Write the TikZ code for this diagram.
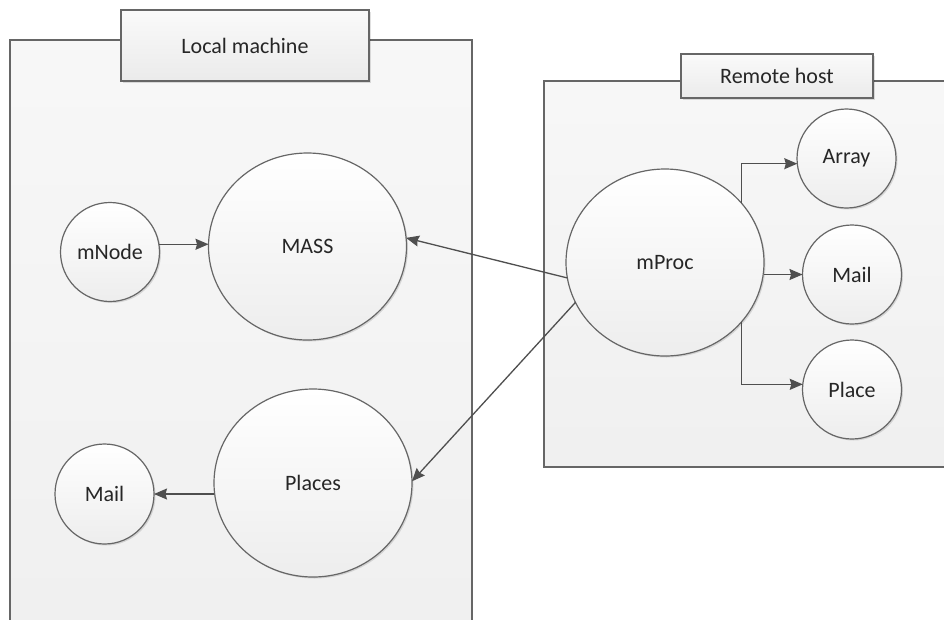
\documentclass[tikz,border=0pt]{standalone}
\usepackage{fontspec}
\setmainfont{Carlito}
\usetikzlibrary{arrows.meta,shapes.geometric,shadows}

\definecolor{edge}{HTML}{666666}
\definecolor{wire}{HTML}{4F4F4F}
\definecolor{ink}{HTML}{262626}

\tikzset{
  panel/.style={draw=edge, line width=1.4pt, top color=black!3, bottom color=black!6},
  tag/.style={draw=edge, line width=1.4pt, top color=black!2, bottom color=black!8,
    drop shadow={shadow xshift=2pt, shadow yshift=-2pt, fill=black, opacity=0.12},
    text=ink, font=\fontsize{22}{26}\selectfont, inner sep=0pt, outer sep=0pt},
  bubble/.style={ellipse, draw=edge, line width=1.2pt, top color=white, bottom color=black!7,
    drop shadow={shadow xshift=1.5pt, shadow yshift=-1.5pt, fill=black, opacity=0.12},
    text=ink, font=\fontsize{22}{26}\selectfont, inner sep=0pt, outer sep=0pt},
  bigbubble/.style={bubble, minimum width=198pt, minimum height=187pt},
  smallbubble/.style={bubble, minimum width=99pt, minimum height=99pt},
  link/.style={draw=wire, line width=1.3pt, -{Stealth[length=13pt,width=11pt,inset=1.5pt]}}
}

\begin{document}
\begin{tikzpicture}[x=1pt, y=-1pt]
  \fill[white] (0,0) rectangle (944,619);
  \useasboundingbox (0,0) rectangle (944,619);
  \clip (0,0) rectangle (944,619);

  % machine panels, both running past the picture's edge
  \path[panel] (10,40) rectangle (472,640);
  \path[panel] (544,81) rectangle (960,467);

  % panel titles
  \node[tag, minimum width=248pt, minimum height=71pt] (localtag) at (245,45.5) {Local machine};
  \node[tag, minimum width=192pt, minimum height=44pt] (remotetag) at (777,76) {Remote host};

  % local side
  \node[smallbubble] (mnode) at (110,252) {mNode};
  \node[bigbubble] (mass) at (307.5,246.5) {MASS};
  \node[bigbubble, minimum height=188pt] (places) at (313,483) {Places};
  \node[smallbubble, minimum height=100pt] (lmail) at (104.5,494) {Mail};

  % remote side
  \node[bigbubble] (mproc) at (665,262.5) {mProc};
  \node[smallbubble] (array) at (846.5,158.5) {Array};
  \node[smallbubble] (rmail) at (852,274.5) {Mail};
  \node[smallbubble] (place) at (852,389.5) {Place};

  % local connectors
  \draw[link] (mnode.9) -- (mnode.9 -| mass.west);
  \draw[link] (lmail.east -| places.west) -- (lmail.east);

  % remote connectors
  \draw[link] (mproc.38) |- (array.186);
  \draw[link] (mproc.east |- rmail.west) -- (rmail.west);
  \draw[link] (mproc.-38) |- (place.174);

  % links between the machines
  \draw[link] (mproc.189) -- (mass.5);
  \draw[link] (mproc.204) -- (places.1);
\end{tikzpicture}
\end{document}
